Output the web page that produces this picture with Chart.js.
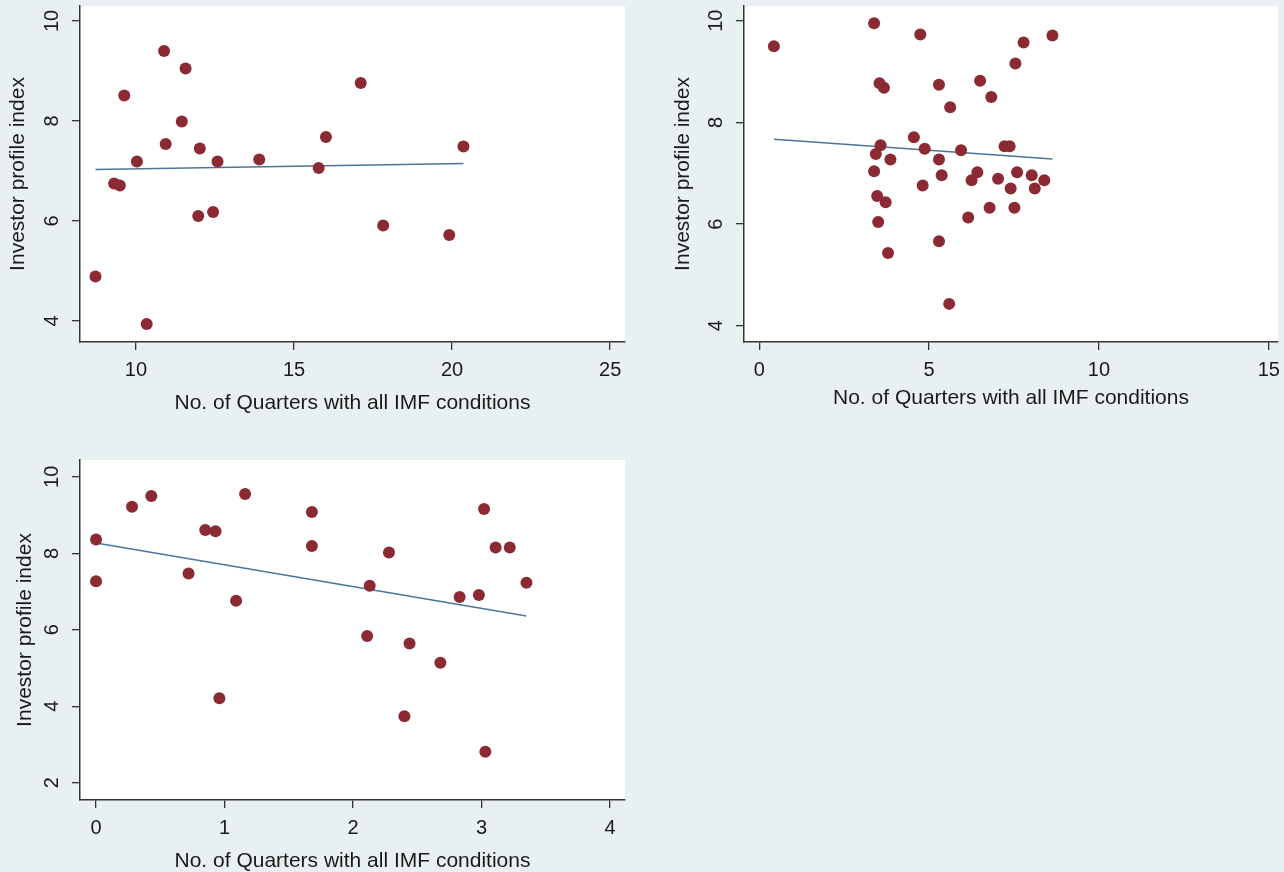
<!DOCTYPE html>
<html lang="en">
<head>
<meta charset="utf-8">
<title>Investor profile index vs. quarters with all IMF conditions</title>
<script src="https://cdn.jsdelivr.net/npm/chart.js@4.4.1/dist/chart.umd.min.js"></script>
<style>
  html, body { margin: 0; padding: 0; background: #e8f0f2; overflow: hidden; }
  body { width: 1284px; height: 872px; position: relative; }
  canvas { position: absolute; }
</style>
</head>
<body>
<canvas id="panel-1" width="640" height="420" style="left:0;top:0"></canvas>
<canvas id="panel-2" width="644" height="420" style="left:640px;top:0"></canvas>
<canvas id="panel-3" width="640" height="432" style="left:0;top:440px"></canvas>
<script>
'use strict';

/* ── Labels ── */
const X_TITLE = 'No. of Quarters with all IMF conditions';
const Y_TITLE = 'Investor profile index';

/* ── Panel 1 (top left) ── */
const p1X = [8.72, 9.31, 9.49, 9.63, 10.03, 10.34, 10.89, 10.94, 11.45, 11.57, 11.97,
             12.02, 12.44, 12.58, 13.90, 15.78, 16.01, 17.11, 17.82, 19.91, 20.36];
const p1Y = [4.89, 6.75, 6.71, 8.51, 7.19, 3.94, 9.40, 7.54, 7.99, 9.05, 6.10,
             7.45, 6.18, 7.19, 7.23, 7.06, 7.68, 8.76, 5.91, 5.72, 7.49];
const p1FitX = [8.72, 20.36];
const p1FitY = [7.03, 7.15];
const p1XTicks = [10, 15, 20, 25];
const p1YTicks = [4, 6, 8, 10];
const p1XRange = [8.23, 25.47];
const p1YRange = [3.58, 10.3];

/* ── Panel 2 (top right) ── */
const p2X = [0.43, 3.38, 4.74, 3.54, 3.67, 5.29, 5.62, 4.55, 3.57, 3.43, 4.87, 5.94, 3.86, 5.29,
             3.38, 5.37, 4.81, 3.47, 3.72, 3.50, 5.29, 3.79, 5.59, 6.15, 6.25, 6.42, 6.50, 6.83,
             6.78, 7.03, 7.22, 7.37, 7.40, 7.51, 7.54, 7.59, 7.78, 8.02, 8.11, 8.39, 8.63];
const p2Y = [9.50, 9.95, 9.73, 8.77, 8.68, 8.74, 8.30, 7.71, 7.55, 7.38, 7.48, 7.45, 7.27, 7.27,
             7.04, 6.96, 6.76, 6.55, 6.43, 6.04, 5.66, 5.43, 4.43, 6.13, 6.86, 7.02, 8.82, 8.50,
             6.32, 6.89, 7.53, 7.53, 6.70, 6.32, 9.16, 7.02, 9.57, 6.96, 6.70, 6.86, 9.71];
const p2FitX = [0.43, 8.63];
const p2FitY = [7.67, 7.28];
const p2XTicks = [0, 5, 10, 15];
const p2YTicks = [4, 6, 8, 10];
const p2XRange = [-0.45, 15.27];
const p2YRange = [3.68, 10.29];

/* ── Panel 3 (bottom left) ── */
const p3X = [0, 0, 0.28, 0.43, 0.72, 0.85, 0.93, 0.96, 1.09, 1.16, 1.68, 1.68, 2.11,
             2.13, 2.28, 2.40, 2.44, 2.68, 2.83, 2.98, 3.02, 3.03, 3.11, 3.22, 3.35];
const p3Y = [8.36, 7.27, 9.22, 9.50, 7.47, 8.61, 8.58, 4.21, 6.76, 9.55, 9.08, 8.19, 5.84,
             7.15, 8.02, 3.74, 5.64, 5.14, 6.86, 6.91, 9.16, 2.81, 8.15, 8.15, 7.23];
const p3FitX = [0, 3.35];
const p3FitY = [8.27, 6.36];
const p3XTicks = [0, 1, 2, 3, 4];
const p3YTicks = [2, 4, 6, 8, 10];
const p3XRange = [-0.125, 4.117];
const p3YRange = [1.55, 10.44];

/* ── Style ── */
const MARKER = '#8c2a33';
const FIT_LINE = '#4c7499';
const INK = '#1a1a1a';
const AXIS = '#333';
const FONT = 'Arial, "Liberation Sans", sans-serif';

const toPoints = (xs, ys) => xs.map((x, i) => ({ x, y: ys[i] }));

/* white plot region inside the blue-grey page */
const plotBackground = {
  id: 'plotBackground',
  beforeDraw(chart) {
    const { ctx, chartArea: a } = chart;
    ctx.save();
    ctx.fillStyle = '#fff';
    ctx.fillRect(a.left, a.top, a.right - a.left, a.bottom - a.top);
    ctx.restore();
  }
};

function axis(ticks, range, isY, lay) {
  return {
    type: 'linear',
    min: range[0],
    max: range[1],
    afterBuildTicks: s => { s.ticks = ticks.map(v => ({ value: v })); },
    // fixed axis sizes, and no label overhang so the plot box sits where it should
    afterFit: s => {
      if (isY) { s.width = lay.yWidth; s.paddingTop = 0; s.paddingBottom = 0; }
      else { s.height = lay.xHeight; s.paddingLeft = 0; s.paddingRight = 0; }
    },
    grid: { drawOnChartArea: false, drawTicks: true, tickLength: 8, color: AXIS, lineWidth: 1.3 },
    border: { display: true, color: AXIS, width: 1.5 },
    ticks: {
      color: INK,
      font: { family: FONT, size: 20 },
      padding: 8,
      minRotation: isY ? 90 : 0,
      maxRotation: isY ? 90 : 0,
      crossAlign: isY ? 'center' : 'near'
    },
    title: {
      display: true,
      text: isY ? Y_TITLE : X_TITLE,
      color: INK,
      font: { family: FONT, size: 21, lineHeight: 1 },
      padding: isY ? { top: 7.5 } : { bottom: lay.xTitlePad }
    }
  };
}

function scatterPanel(id, xs, ys, fitX, fitY, xTicks, yTicks, xRange, yRange, lay) {
  new Chart(document.getElementById(id), {
    type: 'scatter',
    data: {
      datasets: [
        {
          data: toPoints(xs, ys),
          backgroundColor: MARKER,
          borderWidth: 0,
          pointRadius: 6,
          pointHoverRadius: 6
        },
        {
          data: toPoints(fitX, fitY),
          showLine: true,
          borderColor: FIT_LINE,
          borderWidth: 1.6,
          pointRadius: 0,
          pointHoverRadius: 0
        }
      ]
    },
    options: {
      responsive: false,
      animation: false,
      layout: { padding: { left: lay.padLeft, top: lay.padTop, right: lay.padRight, bottom: 0 } },
      plugins: { legend: { display: false }, tooltip: { enabled: false } },
      scales: {
        x: axis(xTicks, xRange, false, lay),
        y: axis(yTicks, yRange, true, lay)
      }
    },
    plugins: [plotBackground]
  });
}

scatterPanel('panel-1', p1X, p1Y, p1FitX, p1FitY, p1XTicks, p1YTicks, p1XRange, p1YRange,
  { padLeft: 0, padTop: 5, padRight: 15, yWidth: 80, xHeight: 78, xTitlePad: 6.5 });
scatterPanel('panel-2', p2X, p2Y, p2FitX, p2FitY, p2XTicks, p2YTicks, p2XRange, p2YRange,
  { padLeft: 25, padTop: 5, padRight: 2, yWidth: 79, xHeight: 78, xTitlePad: 11.5 });
scatterPanel('panel-3', p3X, p3Y, p3FitX, p3FitY, p3XTicks, p3YTicks, p3XRange, p3YRange,
  { padLeft: 7, padTop: 20, padRight: 15, yWidth: 73, xHeight: 72, xTitlePad: 0 });
</script>
</body>
</html>
